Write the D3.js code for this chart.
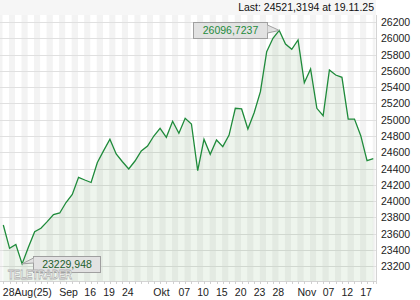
<html>
<head>
    <title>Index chart</title>
    <script type="text/javascript" src="https://cdn.jsdelivr.net/npm/d3@7/dist/d3.min.js"></script>
    <style>
        body { margin: 0; background: #ffffff; }
        text { font-family: "Liberation Sans", Arial, sans-serif; }
    </style>
</head>
<body>

<div id="chart-container"></div>

<script type="text/javascript">

    // daily closing values, 28 Aug 2025 .. 19 Nov 2025 (trading days)
    var closes = [
        23707, 23421, 23468, 23229.948, 23435, 23625, 23667, 23748, 23836, 23855,
        23983, 24082, 24293, 24260, 24229, 24475, 24620, 24760, 24579, 24484,
        24395, 24493, 24616, 24677, 24800, 24895, 24784, 24981, 24833, 25017,
        24947, 24374, 24760, 24575, 24751, 24669, 24812, 25140, 25132, 24886,
        25086, 25344, 25835, 26000, 26096.7237, 25930, 25865, 25979, 25455, 25623,
        25140, 25049, 25611, 25549, 25521, 25008, 25008, 24804, 24497, 24521.3194
    ];

    // x axis labels: trading day index and text
    var tickDays = [0, 9, 13, 16, 19, 24, 28, 31, 34, 37, 40, 43, 47, 51, 54, 57];
    var tickTexts = ["28Aug(25)", "Sep", "16", "19", "24", "Okt", "07", "10", "15", "20", "23", "28", "Nov", "07", "12", "17"];

    // y axis labels
    var yTicks = d3.range(23200, 26201, 200);

    var lastText = "Last: 24521,3194 at 19.11.25";
    var maxText = "26096,7237";
    var minText = "23229,948";

    var WIDTH = 420, HEIGHT = 300;
    var PLOT_LEFT = 0, PLOT_RIGHT = 376, PLOT_TOP = 15, PLOT_BOTTOM = 281;
    var LINE_COLOR = "#1f8b3b";

    var canvas = d3.select("#chart-container").append("svg")
        .attr("width", WIDTH)
        .attr("height", HEIGHT);

    var x = d3.scaleLinear().domain([0, closes.length - 1]).range([3.3, 373.3]);
    var y = d3.scaleLinear().domain([23200, 26200]).range([266.3, 22]);

    // top band
    canvas.append("rect")
        .attr("x", 0).attr("y", 0)
        .attr("width", PLOT_RIGHT).attr("height", PLOT_TOP)
        .attr("fill", "#f6f6f6");

    // alternating day stripes
    var stripeDays = d3.range(-1, closes.length);
    canvas.selectAll("rect.stripe")
        .data(stripeDays)
        .enter().append("rect")
        .attr("class", "stripe")
        .attr("x", function (d) { return Math.max(PLOT_LEFT, x(d) - 0.6); })
        .attr("y", PLOT_TOP)
        .attr("width", function (d) { return Math.min(x(d + 1), PLOT_RIGHT) - Math.max(PLOT_LEFT, x(d) - 0.6) - 0.6; })
        .attr("height", PLOT_BOTTOM - PLOT_TOP)
        .attr("fill", function (d) { return (d % 2 === 0) ? "#ffffff" : "#f3f3f3"; });

    // horizontal grid
    canvas.selectAll("line.grid")
        .data(yTicks)
        .enter().append("line")
        .attr("class", "grid")
        .attr("x1", PLOT_LEFT).attr("x2", PLOT_RIGHT)
        .attr("y1", function (d) { return Math.round(y(d)) + 0.5; })
        .attr("y2", function (d) { return Math.round(y(d)) + 0.5; })
        .attr("stroke", "#e0e0e0")
        .attr("stroke-width", 1);

    // area under line
    var area = d3.area()
        .x(function (d, i) { return x(i); })
        .y0(PLOT_BOTTOM)
        .y1(function (d) { return y(d); });

    canvas.append("path")
        .datum(closes)
        .attr("d", area)
        .attr("fill", "rgb(70,140,50)")
        .attr("fill-opacity", 0.09);

    var line = d3.line()
        .x(function (d, i) { return x(i); })
        .y(function (d) { return y(d); });

    canvas.append("path")
        .datum(closes)
        .attr("d", line)
        .attr("fill", "none")
        .attr("stroke", LINE_COLOR)
        .attr("stroke-width", 1.3)
        .attr("stroke-linejoin", "miter");

    // right axis
    canvas.append("line")
        .attr("x1", PLOT_RIGHT + 0.5).attr("x2", PLOT_RIGHT + 0.5)
        .attr("y1", PLOT_TOP).attr("y2", PLOT_BOTTOM + 3)
        .attr("stroke", "#d4d4d4");

    canvas.selectAll("text.ylabel")
        .data(yTicks)
        .enter().append("text")
        .attr("class", "ylabel")
        .attr("x", 381)
        .attr("y", function (d) { return y(d) + 4; })
        .attr("font-size", 10.5)
        .attr("fill", "#222")
        .text(function (d) { return d; });

    // bottom axis with a tick per day
    canvas.append("line")
        .attr("x1", PLOT_LEFT).attr("x2", PLOT_RIGHT)
        .attr("y1", PLOT_BOTTOM + 0.5).attr("y2", PLOT_BOTTOM + 0.5)
        .attr("stroke", "#d4d4d4");

    canvas.selectAll("line.dtick")
        .data(d3.range(0, closes.length))
        .enter().append("line")
        .attr("class", "dtick")
        .attr("x1", function (d) { return Math.round(x(d)) + 0.5; })
        .attr("x2", function (d) { return Math.round(x(d)) + 0.5; })
        .attr("y1", PLOT_BOTTOM).attr("y2", PLOT_BOTTOM + 3)
        .attr("stroke", "#d0d0d0");

    canvas.selectAll("text.xlabel")
        .data(tickDays)
        .enter().append("text")
        .attr("class", "xlabel")
        .attr("x", function (d) { return x(d) - 0.5; })
        .attr("y", 295.5)
        .attr("font-size", 10.5)
        .attr("fill", "#222")
        .text(function (d, i) { return tickTexts[i]; });

    // last value text
    canvas.append("text")
        .attr("x", 374)
        .attr("y", 10.7)
        .attr("text-anchor", "end")
        .attr("font-size", 10.5)
        .attr("fill", "#111")
        .text(lastText);

    // max / min callouts
    var maxIdx = d3.maxIndex(closes);
    var minIdx = d3.minIndex(closes);

    function callout(idx, bx, by, bw, bh, pointer, label, color) {
        var px = x(idx), py = y(closes[idx]);
        var g = canvas.append("g");
        g.append("rect")
            .attr("x", bx + 0.5).attr("y", by + 0.5)
            .attr("width", bw).attr("height", bh)
            .attr("fill", "#e2e2e2")
            .attr("stroke", "#a0a0a0");
        g.append("path")
            .attr("d", "M" + pointer[0][0] + "," + pointer[0][1] + "L" + px + "," + py + "L" + pointer[1][0] + "," + pointer[1][1])
            .attr("fill", "#e2e2e2")
            .attr("stroke", "#a0a0a0");
        g.append("text")
            .attr("x", bx + bw / 2 + 0.5)
            .attr("y", by + bh / 2 + 4.3)
            .attr("text-anchor", "middle")
            .attr("font-size", 10.5)
            .attr("fill", color)
            .text(label);
    }

    callout(maxIdx, 193, 22, 74, 16, [[267.5, 25], [267.5, 33]], maxText, "#1f8b3b");
    callout(minIdx, 33, 256, 67, 16, [[33.5, 258], [33.5, 263]], minText, "#1d5f2b");

    // watermark
    canvas.append("text")
        .attr("x", 8)
        .attr("y", 278.5)
        .attr("font-size", 13)
        .attr("font-weight", "bold")
        .attr("textLength", 64)
        .attr("lengthAdjust", "spacingAndGlyphs")
        .attr("fill", "#ffffff")
        .attr("fill-opacity", 0.85)
        .attr("stroke", "#b0b0b0")
        .attr("stroke-width", 0.8)
        .text("TELETRADER");

</script>

</body>
</html>
